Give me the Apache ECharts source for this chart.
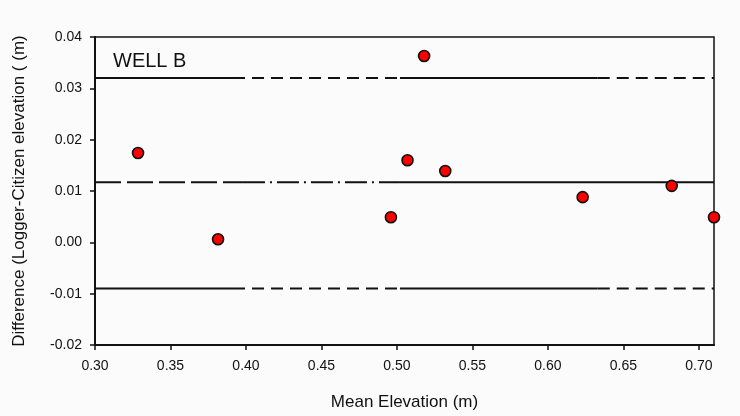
<!DOCTYPE html>
<html>
<head>
<meta charset="utf-8">
<script src="https://cdn.jsdelivr.net/npm/echarts@6/dist/echarts.min.js"></script>
<style>
html,body{margin:0;padding:0;background:#fbfbfb;}
#c{width:740px;height:416px;}
</style>
</head>
<body>
<div id="c"></div>
<script>
// Data points (Mean Elevation, Difference)
const meanElevation = [0.3285, 0.3815, 0.496, 0.507, 0.518, 0.532, 0.623, 0.682, 0.710];
const difference    = [0.0174, 0.0006, 0.0049, 0.0160, 0.0363, 0.0139, 0.0088, 0.0110, 0.0049];

// Reference lines (upper limit, mean, lower limit)
const upperLimit = 0.032;
const meanDiff = 0.0117;
const lowerLimit = -0.009;

// Segment break positions along x for the reference lines (style changes)
const limitBreaks = [0.30, 0.3914, 0.502, 0.633, 0.71];
const limitStyles = ['solid', 'dashed', 'solid', 'dashed'];
const meanBreaks = [0.30, 0.398, 0.502, 0.71];
const meanStyles = ['longdash', 'dashdot', 'solid'];

const xTicks = ['0.30','0.35','0.40','0.45','0.50','0.55','0.60','0.65','0.70'];
const yTicks = ['-0.02','-0.01','0.00','0.01','0.02','0.03','0.04'];

const FONT = '"Liberation Sans", Arial, sans-serif';

const styleMap = {
  solid: 'solid',
  dashed: [12, 7],
  longdash: [26, 6],
  dashdot: [22, 5, 2, 5]
};

const series = [];
function addLine(yVal, breaks, styles) {
  for (let i = 0; i < styles.length; i++) {
    series.push({
      type: 'line',
      data: [[breaks[i], yVal], [breaks[i + 1], yVal]],
      symbol: 'none',
      silent: true,
      lineStyle: { color: '#111', width: 2, type: styleMap[styles[i]] },
      z: 2
    });
  }
}
addLine(upperLimit, limitBreaks, limitStyles);
addLine(meanDiff, meanBreaks, meanStyles);
addLine(lowerLimit, limitBreaks, limitStyles);

series.push({
  type: 'scatter',
  data: meanElevation.map((x, i) => [x, difference[i]]),
  symbol: 'circle',
  symbolSize: 11,
  itemStyle: { color: '#ff0000', opacity: 1, borderColor: '#111', borderWidth: 1.6 },
  z: 5
});

const chart = echarts.init(document.getElementById('c'), null, { renderer: 'canvas' });
chart.setOption({
  backgroundColor: '#fbfbfb',
  animation: false,
  grid: {
    left: 95, right: 26, top: 37, bottom: 71,
    show: true, borderColor: '#111', borderWidth: 1.5, backgroundColor: 'transparent'
  },
  graphic: [{
    type: 'text',
    left: 113, top: 51,
    style: { text: 'WELL B', font: '20px "Liberation Sans", Arial, sans-serif', fill: '#111' }
  }],
  xAxis: {
    type: 'value',
    min: 0.30, max: 0.71, interval: 0.05,
    splitLine: { show: false },
    axisLine: { show: true, onZero: false, lineStyle: { color: '#111', width: 2 } },
    axisTick: { show: true, length: 5, inside: false, lineStyle: { color: '#111', width: 1.5 } },
    axisLabel: {
      color: '#111', fontSize: 14, margin: 14,
      fontFamily: FONT,
      showMaxLabel: false,
      formatter: function (v) {
        const idx = Math.round((v - 0.30) / 0.05);
        if (Math.abs(v - (0.30 + idx * 0.05)) > 1e-6) return '';
        return xTicks[idx] || '';
      }
    },
    name: 'Mean Elevation (m)',
    nameLocation: 'middle',
    nameGap: 49,
    nameTextStyle: { color: '#111', fontSize: 17, fontFamily: FONT }
  },
  yAxis: {
    type: 'value',
    min: -0.02, max: 0.04, interval: 0.01,
    splitLine: { show: false },
    axisLine: { show: true, onZero: false, lineStyle: { color: '#111', width: 2 } },
    axisTick: { show: true, length: 5, inside: false, lineStyle: { color: '#111', width: 1.5 } },
    axisLabel: {
      color: '#111', fontSize: 14, margin: 13,
      fontFamily: FONT,
      formatter: function (v) {
        const idx = Math.round((v + 0.02) / 0.01);
        return yTicks[idx] || '';
      }
    },
    name: 'Difference (Logger-Citizen elevation ( (m)',
    nameLocation: 'middle',
    nameGap: 67,
    nameRotate: 90,
    nameTextStyle: { color: '#111', fontSize: 17, fontFamily: FONT }
  },
  series: series
});
</script>
</body>
</html>
